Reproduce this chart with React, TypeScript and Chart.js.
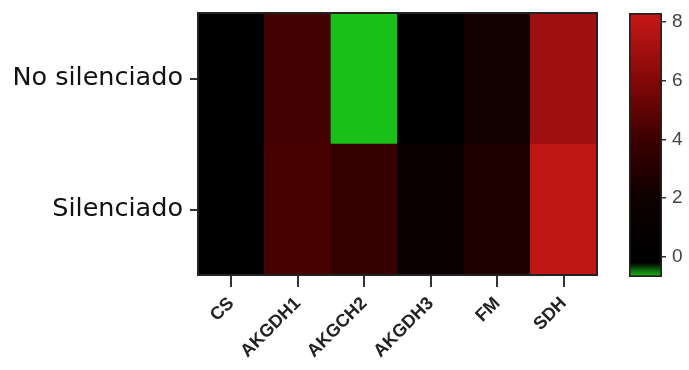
import React, { useEffect, useRef } from "react";
import { Chart, registerables } from "chart.js";

Chart.register(...registerables);

const genes = ["CS", "AKGDH1", "AKGCH2", "AKGDH3", "FM", "SDH"];
const rowLabels = ["No silenciado", "Silenciado"];
const noSilenciado = [0, 4.2, -0.7, 0, 2.2, 6.95];
const silenciado = [0, 4.3, 3.7, 1.4, 2.8, 8.0];
const colorTicks = [0, 2, 4, 6, 8];
const colorMin = -0.68;
const colorMax = 8.3;

const colorStops: [number, string][] = [
  [-0.7, "#18c018"],
  [-0.45, "#0e6a0e"],
  [-0.2, "#000000"],
  [0, "#000000"],
  [2, "#0e0000"],
  [4, "#3c0000"],
  [6, "#840808"],
  [8.3, "#c81818"],
];

function hexToRgb(h: string) {
  const n = parseInt(h.slice(1), 16);
  return [(n >> 16) & 255, (n >> 8) & 255, n & 255];
}

function colorFor(v: number) {
  if (v <= colorStops[0][0]) return colorStops[0][1];
  for (let i = 1; i < colorStops.length; i++) {
    const [v1, c1] = colorStops[i];
    const [v0, c0] = colorStops[i - 1];
    if (v <= v1) {
      const t = (v - v0) / (v1 - v0);
      const a = hexToRgb(c0);
      const b = hexToRgb(c1);
      const r = a.map((x, k) => Math.round(x + (b[k] - x) * t));
      return `rgb(${r[0]},${r[1]},${r[2]})`;
    }
  }
  return colorStops[colorStops.length - 1][1];
}

const framePlugin = {
  id: "frame",
  afterDatasetsDraw(chart: any) {
    const { ctx, chartArea } = chart;
    ctx.save();
    ctx.strokeStyle = "#222";
    ctx.lineWidth = 2;
    ctx.strokeRect(chartArea.left, chartArea.top, chartArea.right - chartArea.left, chartArea.bottom - chartArea.top);
    ctx.restore();
  },
};

export default function App() {
  const mainRef = useRef<HTMLCanvasElement>(null);
  const barRef = useRef<HTMLCanvasElement>(null);

  useEffect(() => {
    const ones = genes.map(() => 1);
    const main = new Chart(mainRef.current!, {
      type: "bar",
      data: {
        labels: genes,
        datasets: [
          {
            label: rowLabels[1],
            data: ones,
            backgroundColor: silenciado.map(colorFor),
            borderWidth: 0,
            barPercentage: 1,
            categoryPercentage: 1,
          },
          {
            label: rowLabels[0],
            data: ones,
            backgroundColor: noSilenciado.map(colorFor),
            borderWidth: 0,
            barPercentage: 1,
            categoryPercentage: 1,
          },
        ],
      },
      options: {
        animation: false,
        responsive: false,
        layout: { padding: { top: 13, right: 18, left: 0, bottom: 0 } },
        plugins: { legend: { display: false }, tooltip: { enabled: false } },
        scales: {
          x: {
            stacked: true,
            afterFit: (s: any) => {
              s.height = 95;
              s.paddingLeft = 0;
              s.paddingRight = 0;
            },
            grid: { offset: false, drawOnChartArea: false, tickLength: 12, color: "#333", lineWidth: 2 },
            border: { display: true, color: "#222", width: 2 },
            ticks: {
              minRotation: 45,
              maxRotation: 45,
              padding: 6,
              color: "#222",
              font: { family: "Liberation Sans", weight: "bold", size: 18 },
            },
          },
          y: {
            stacked: true,
            min: 0,
            max: 2,
            afterFit: (s: any) => {
              s.width = 198;
              s.paddingTop = 0;
              s.paddingBottom = 0;
            },
            afterBuildTicks: (s: any) => {
              s.ticks = [{ value: 0.5 }, { value: 1.5 }];
            },
            grid: { drawOnChartArea: false, tickLength: 8, color: "#333", lineWidth: 2 },
            border: { display: true, color: "#222", width: 2 },
            ticks: {
              padding: 7,
              color: "#111",
              font: { family: "DejaVu Sans", size: 25.5 },
              callback: (v: any) => (v > 1 ? rowLabels[0] : rowLabels[1]),
            },
          },
        },
      },
      plugins: [framePlugin],
    } as any);

    const bar = new Chart(barRef.current!, {
      type: "bar",
      data: {
        labels: [""],
        datasets: [
          {
            data: [[colorMin, colorMax]],
            backgroundColor: (ctx: any) => {
              const chart = ctx.chart;
              const y = chart.scales && chart.scales.y;
              if (!chart.chartArea || !y) return "#000";
              const g = chart.ctx.createLinearGradient(0, y.getPixelForValue(colorMin), 0, y.getPixelForValue(colorMax));
              colorStops.forEach(([v, c]) => {
                const t = Math.min(1, Math.max(0, (v - colorMin) / (colorMax - colorMin)));
                g.addColorStop(t, c);
              });
              return g;
            },
            borderColor: "#222",
            borderWidth: 2,
            borderSkipped: false,
            barPercentage: 1,
            categoryPercentage: 1,
          },
        ],
      },
      options: {
        animation: false,
        responsive: false,
        layout: { padding: { top: 13, left: 29, bottom: 0, right: 0 } },
        plugins: { legend: { display: false }, tooltip: { enabled: false } },
        scales: {
          x: {
            display: true,
            afterFit: (s: any) => {
              s.height = 93;
              s.paddingLeft = 0;
              s.paddingRight = 0;
            },
            grid: { display: false },
            border: { display: false },
            ticks: { display: false },
          },
          y: {
            position: "right",
            min: colorMin,
            max: colorMax,
            afterFit: (s: any) => {
              s.width = 27;
              s.paddingTop = 0;
              s.paddingBottom = 0;
            },
            afterBuildTicks: (s: any) => {
              s.ticks = colorTicks.map((v) => ({ value: v }));
            },
            grid: { drawOnChartArea: false, tickLength: 4, color: "#333", lineWidth: 1.5 },
            border: { display: false },
            ticks: {
              padding: 6,
              color: "#444",
              font: { family: "Liberation Sans", size: 19 },
            },
          },
        },
      },
    } as any);

    return () => {
      main.destroy();
      bar.destroy();
    };
  }, []);

  return (
    <div style={{ position: "fixed", left: 0, top: 0, width: 689, height: 370, background: "#fff" }}>
      <canvas ref={mainRef} width={615} height={370} style={{ position: "absolute", left: 0, top: 0 }} />
      <canvas ref={barRef} width={89} height={370} style={{ position: "absolute", left: 600, top: 0 }} />
    </div>
  );
}
